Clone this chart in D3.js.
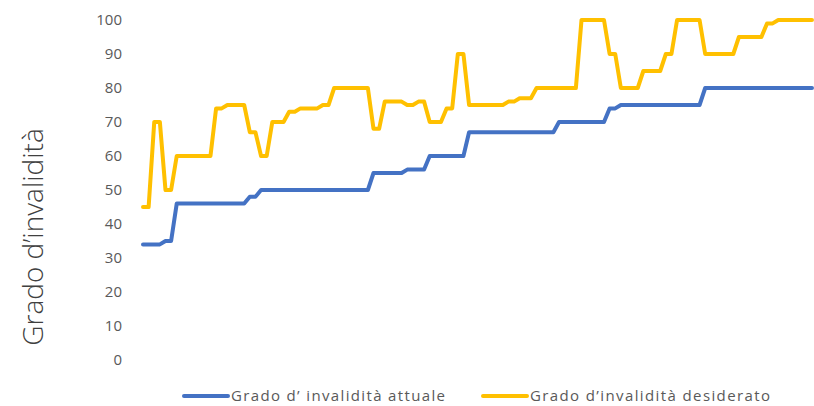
<!DOCTYPE html>
<html>
<head>
<meta charset="utf-8">
<script src="https://cdn.jsdelivr.net/npm/d3@7/dist/d3.min.js"></script>
<style>
  html, body { margin: 0; padding: 0; background: #fff; }
  svg { display: block; }
</style>
</head>
<body>
<svg id="chart" width="814" height="406"></svg>
<script>
// ---- data ----
const seriesNames = ["Grado d\u2019 invalidità attuale", "Grado d\u2019invalidità desiderato"];
const yTicks = [0, 10, 20, 30, 40, 50, 60, 70, 80, 90, 100];
const yTitle = "Grado d\u2019invalidità";

const attuale = [
  34, 34, 34, 34, 35, 35, 46, 46, 46, 46,
  46, 46, 46, 46, 46, 46, 46, 46, 46, 48,
  48, 50, 50, 50, 50, 50, 50, 50, 50, 50,
  50, 50, 50, 50, 50, 50, 50, 50, 50, 50,
  50, 55, 55, 55, 55, 55, 55, 56, 56, 56,
  56, 60, 60, 60, 60, 60, 60, 60, 67, 67,
  67, 67, 67, 67, 67, 67, 67, 67, 67, 67,
  67, 67, 67, 67, 70, 70, 70, 70, 70, 70,
  70, 70, 70, 74, 74, 75, 75, 75, 75, 75,
  75, 75, 75, 75, 75, 75, 75, 75, 75, 75,
  80, 80, 80, 80, 80, 80, 80, 80, 80, 80,
  80, 80, 80, 80, 80, 80, 80, 80, 80, 80
];
const desiderato = [
  45, 45, 70, 70, 50, 50, 60, 60, 60, 60,
  60, 60, 60, 74, 74, 75, 75, 75, 75, 67,
  67, 60, 60, 70, 70, 70, 73, 73, 74, 74,
  74, 74, 75, 75, 80, 80, 80, 80, 80, 80,
  80, 68, 68, 76, 76, 76, 76, 75, 75, 76,
  76, 70, 70, 70, 74, 74, 90, 90, 75, 75,
  75, 75, 75, 75, 75, 76, 76, 77, 77, 77,
  80, 80, 80, 80, 80, 80, 80, 80, 100, 100,
  100, 100, 100, 90, 90, 80, 80, 80, 80, 85,
  85, 85, 85, 90, 90, 100, 100, 100, 100, 100,
  90, 90, 90, 90, 90, 90, 95, 95, 95, 95,
  95, 99, 99, 100, 100, 100, 100, 100, 100, 100
];
const seriesColors = ["#4472C4", "#FFC000"];

// ---- chart ----
const svg = d3.select("#chart");
const x = d3.scaleLinear().domain([0, attuale.length - 1]).range([143, 812]);
const y = d3.scaleLinear().domain([0, 100]).range([360, 20]);

const yAxis = d3.axisLeft(y).tickValues(yTicks).tickSize(0).tickPadding(6);
const gy = svg.append("g").attr("transform", "translate(128,0)").call(yAxis);
gy.select(".domain").remove();
gy.selectAll("text")
  .attr("fill", "#595959")
  .style("font-family", "'Open Sans', sans-serif")
  .style("font-size", "15px");

svg.append("text")
  .attr("transform", "translate(43,237) rotate(-90)")
  .attr("text-anchor", "middle")
  .attr("fill", "#404040")
  .style("font-family", "'Open Sans', sans-serif")
  .style("font-weight", 300)
  .style("font-size", "28px")
  .text(yTitle);

const line = d3.line().x((d, i) => x(i)).y(d => y(d));
[attuale, desiderato].forEach((s, k) => {
  svg.append("path")
    .datum(s)
    .attr("fill", "none")
    .attr("stroke", seriesColors[k])
    .attr("stroke-width", 4)
    .attr("stroke-linejoin", "round")
    .attr("stroke-linecap", "round")
    .attr("d", line);
});

// legend
const legendItems = [
  { name: seriesNames[0], color: seriesColors[0], x0: 184, tl: 214 },
  { name: seriesNames[1], color: seriesColors[1], x0: 483, tl: 240 }
];
const lg = svg.append("g");
legendItems.forEach(it => {
  lg.append("line")
    .attr("x1", it.x0).attr("x2", it.x0 + 44)
    .attr("y1", 396).attr("y2", 396)
    .attr("stroke", it.color).attr("stroke-width", 4)
    .attr("stroke-linecap", "round");
  lg.append("text")
    .attr("x", it.x0 + 47).attr("y", 401)
    .attr("fill", "#595959")
    .attr("textLength", it.tl)
    .attr("lengthAdjust", "spacing")
    .style("font-family", "'Open Sans', sans-serif")
    .style("font-size", "15px")
    .text(it.name);
});
</script>
</body>
</html>
